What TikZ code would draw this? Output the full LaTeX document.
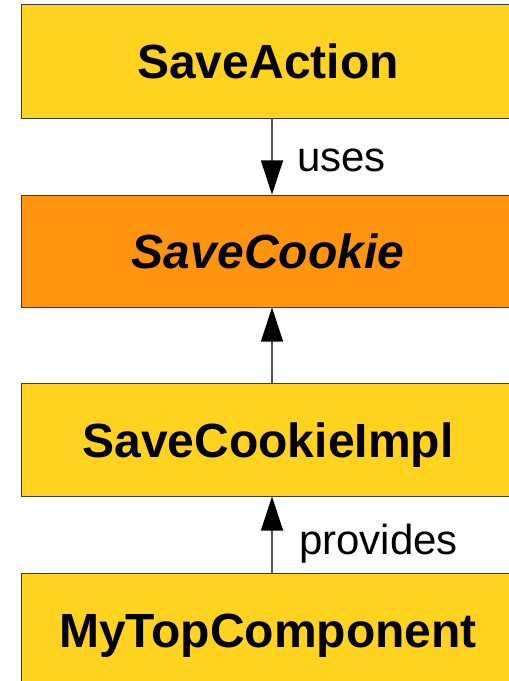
\documentclass[tikz,border=0pt]{standalone}
\usepackage{fontspec}
\setmainfont{Liberation Sans}
\usetikzlibrary{arrows.meta}
\definecolor{boxyellow}{HTML}{FFD320}
\definecolor{boxorange}{HTML}{FF950E}
\definecolor{edgegray}{HTML}{3C3C3C}
\definecolor{linegray}{HTML}{555555}
\begin{document}
\begin{tikzpicture}[x=1bp,y=-1bp,
  classbox/.style={draw=edgegray, line width=1bp, minimum width=492bp, minimum height=113bp,
    inner sep=0pt, text height=35bp, text depth=0pt, font=\fontsize{48bp}{56bp}\selectfont\bfseries},
  conn/.style={draw=linegray, line width=1.2bp, -{Triangle[length=34bp,width=22bp,fill=black,color=black]}},
  lbl/.style={anchor=base west, inner sep=0pt, font=\fontsize{42bp}{48bp}\selectfont}]
\useasboundingbox (0,0) rectangle (509,681);
\clip (0,0) rectangle (509,681);
\node[classbox, fill=boxyellow] (sa) at (268,61.5) {SaveAction};
\node[classbox, fill=boxorange, minimum height=112bp] (sc) at (268,251) {\itshape SaveCookie};
\node[classbox, fill=boxyellow] (si) at (268,439.5) {SaveCookieImpl};
\node[classbox, fill=boxyellow] (mt) at (268,629.5) {MyTopComponent};
\coordinate (ax) at (272,0);
\draw[conn] (sa.south -| ax) -- (sc.north -| ax);
\draw[conn] (si.north -| ax) -- (sc.south -| ax);
\draw[conn] (mt.north -| ax) -- (si.south -| ax);
\node[lbl] (l1) at (297,171) {uses};
\node[lbl] (l2) at (299,554) {provides};
\end{tikzpicture}
\end{document}
